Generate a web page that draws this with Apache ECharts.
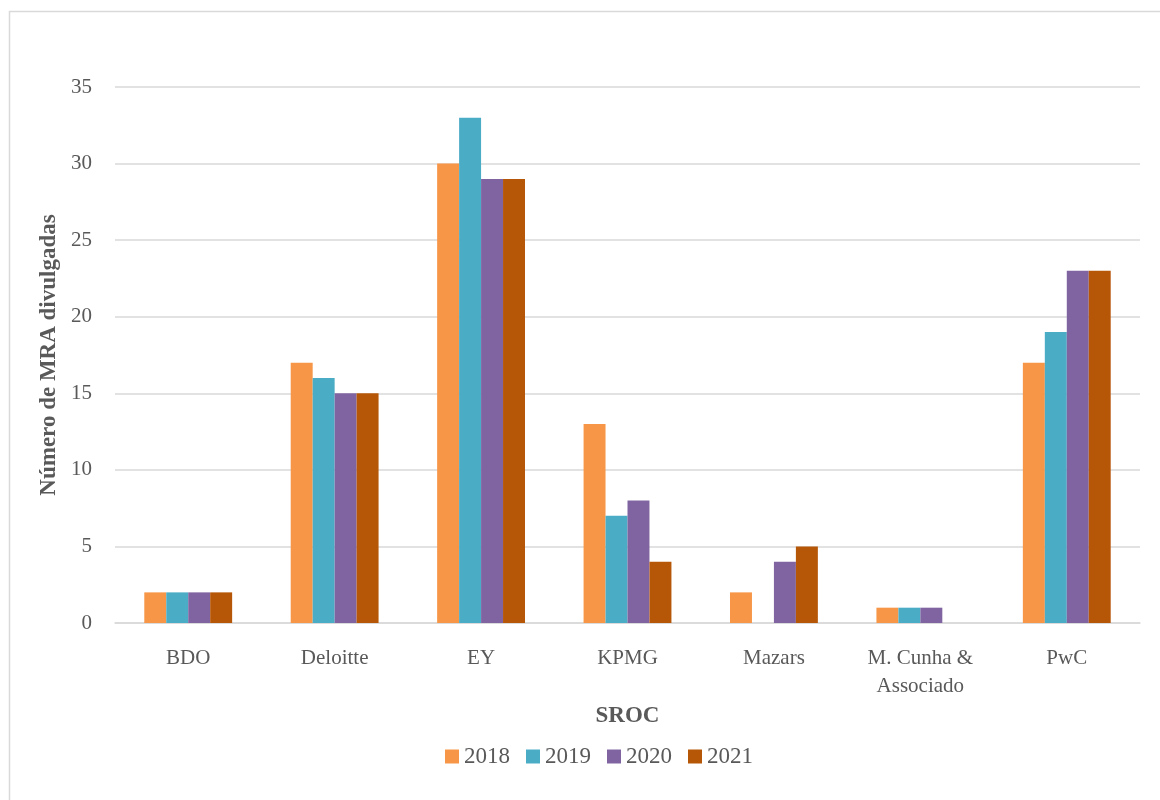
<!DOCTYPE html>
<html><head><meta charset="utf-8">
<script src="https://cdn.jsdelivr.net/npm/echarts@6/dist/echarts.min.js"></script>
<style>html,body{margin:0;padding:0;background:#fff}#c{width:1160px;height:800px}</style>
</head><body><div id="c"></div>
<script>
const categories = ["BDO", "Deloitte", "EY", "KPMG", "Mazars", "M. Cunha & Associado", "PwC"];
const seriesNames = ["2018", "2019", "2020", "2021"];
const v2018 = [2, 17, 30, 13, 2, 1, 17];
const v2019 = [2, 16, 33, 7, 0, 1, 19];
const v2020 = [2, 15, 29, 8, 4, 1, 23];
const v2021 = [2, 15, 29, 4, 5, 0, 23];
const yTicks = [0, 5, 10, 15, 20, 25, 30, 35];

const colors = ["#F79646", "#4BACC6", "#8064A2", "#B65708"];
const values = [v2018, v2019, v2020, v2021];
const FONT = "Liberation Serif";

const chart = echarts.init(document.getElementById('c'));
chart.setOption({
  animation: false,
  textStyle: {fontFamily: FONT},
  graphic: [{type: 'rect', left: 7, top: 9, shape: {width: 1160, height: 800},
    style: {fill: 'none', stroke: '#D9D9D9', lineWidth: 1.5}, silent: true, z: -1}],
  grid: {left: 115, right: 20, top: 87, bottom: 177},
  legend: {
    data: seriesNames, left: 440, top: 740, itemWidth: 14, itemHeight: 14, itemGap: 16,
    icon: 'rect', textStyle: {fontFamily: FONT, fontSize: 23, color: '#595959'}
  },
  xAxis: {
    type: 'category', data: categories,
    name: 'SROC', nameLocation: 'middle', nameGap: 76,
    nameTextStyle: {fontFamily: FONT, fontSize: 23, fontWeight: 'bold', color: '#595959'},
    axisLine: {lineStyle: {color: '#D9D9D9', width: 1.5}},
    axisTick: {show: false},
    axisLabel: {fontFamily: FONT, fontSize: 21, color: '#595959', margin: 21, lineHeight: 28,
      formatter: s => s.replace('& ', '&\n')}
  },
  yAxis: {
    type: 'value', min: yTicks[0], max: yTicks[yTicks.length - 1], interval: 5,
    name: 'Número de MRA divulgadas', nameLocation: 'middle', nameGap: 54,
    nameTextStyle: {fontFamily: FONT, fontSize: 23, fontWeight: 'bold', color: '#595959'},
    axisLine: {show: false}, axisTick: {show: false},
    axisLabel: {fontFamily: FONT, fontSize: 21, color: '#595959', margin: 23},
    splitLine: {lineStyle: {color: '#D9D9D9', width: 1.5}}
  },
  series: seriesNames.map((n, i) => ({
    name: n, type: 'bar', data: values[i], barGap: '0%', barCategoryGap: '40%',
    itemStyle: {color: colors[i]}
  }))
});
</script></body></html>
